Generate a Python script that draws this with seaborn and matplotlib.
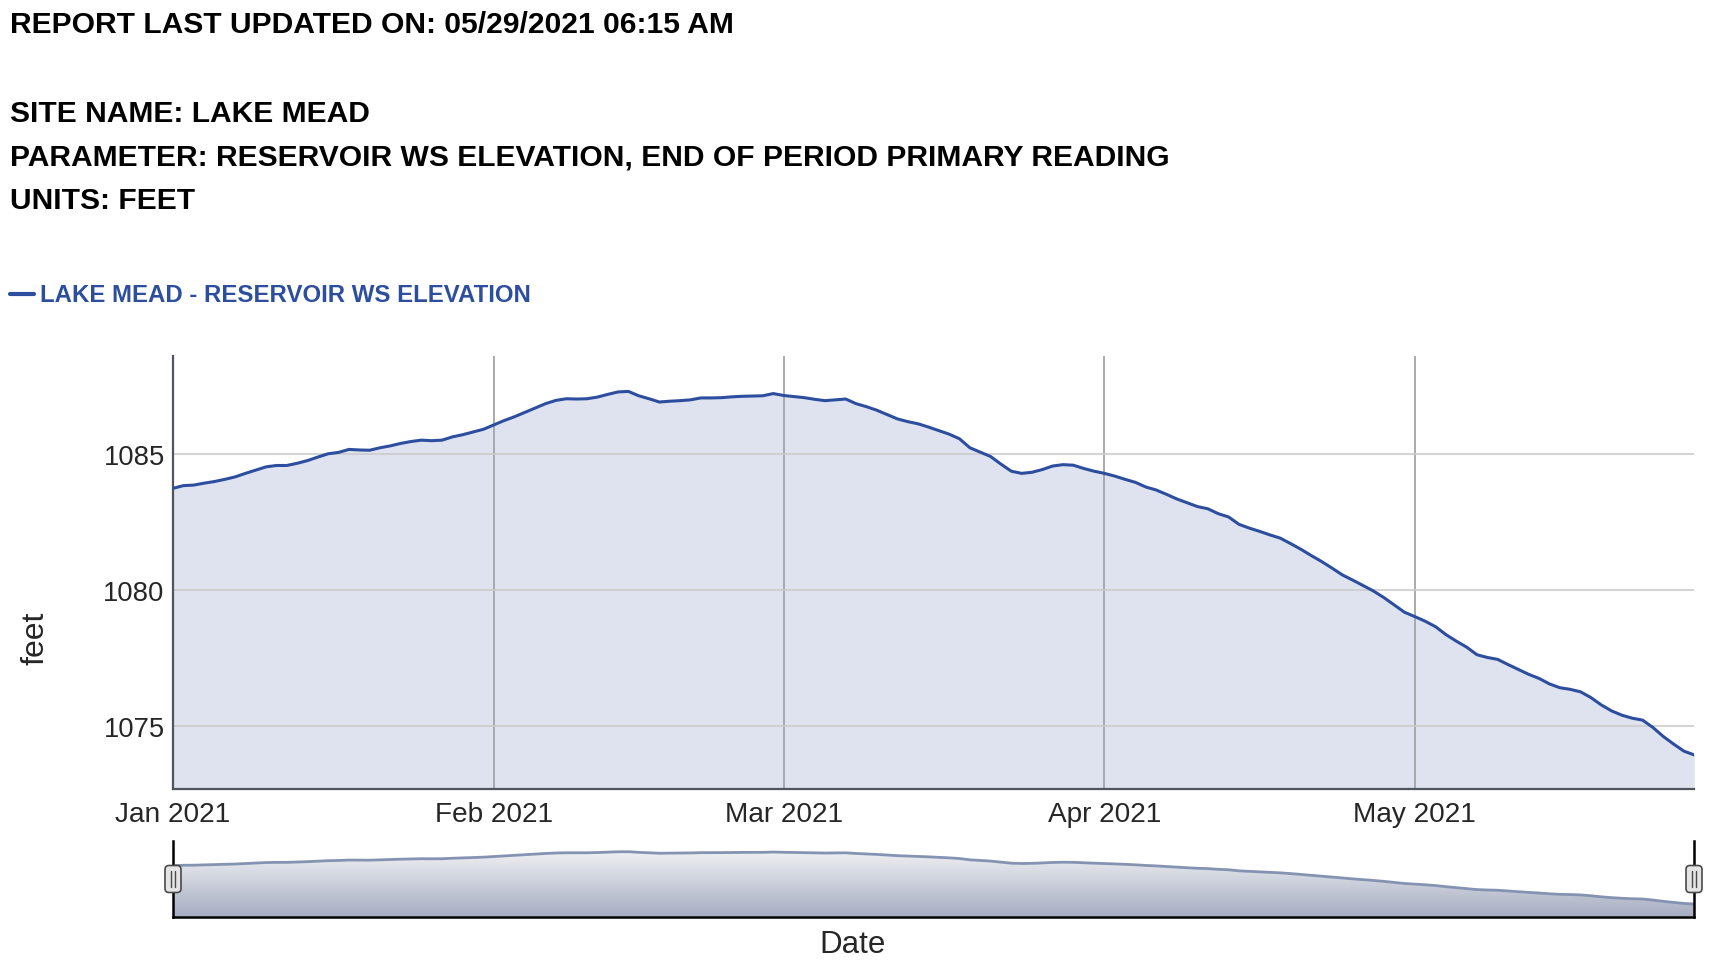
import numpy as np
import pandas as pd
import matplotlib
matplotlib.use('Agg')
import matplotlib.pyplot as plt
import matplotlib.dates as mdates
from matplotlib.colors import LinearSegmentedColormap
from matplotlib.patches import FancyBboxPatch
from matplotlib.lines import Line2D
from matplotlib.transforms import IdentityTransform
import seaborn as sns

# Lake Mead daily elevation (feet)
jan_ft = [1083.73, 1083.83, 1083.85, 1083.92, 1083.98, 1084.06, 1084.15, 1084.28, 1084.40, 1084.52,
          1084.57, 1084.57, 1084.65, 1084.75, 1084.88, 1085.00, 1085.05, 1085.16, 1085.14, 1085.13,
          1085.22, 1085.29, 1085.38, 1085.45, 1085.50, 1085.48, 1085.50, 1085.62, 1085.70, 1085.80,
          1085.90]
feb_ft = [1086.06, 1086.22, 1086.36, 1086.52, 1086.68, 1086.84, 1086.96, 1087.02, 1087.01, 1087.02,
          1087.08, 1087.18, 1087.27, 1087.29, 1087.13, 1087.02, 1086.90, 1086.93, 1086.95, 1086.98,
          1087.05, 1087.05, 1087.06, 1087.09, 1087.11, 1087.12, 1087.13, 1087.21]
mar_ft = [1087.14, 1087.10, 1087.06, 1087.00, 1086.95, 1086.98, 1087.01, 1086.84, 1086.73, 1086.60,
          1086.44, 1086.28, 1086.18, 1086.10, 1085.98, 1085.85, 1085.72, 1085.55, 1085.22, 1085.06,
          1084.90, 1084.62, 1084.36, 1084.28, 1084.32, 1084.42, 1084.55, 1084.60, 1084.58, 1084.46,
          1084.36]
apr_ft = [1084.28, 1084.18, 1084.06, 1083.95, 1083.78, 1083.67, 1083.51, 1083.34, 1083.20, 1083.06,
          1082.98, 1082.80, 1082.68, 1082.41, 1082.27, 1082.15, 1082.02, 1081.90, 1081.70, 1081.49,
          1081.26, 1081.04, 1080.80, 1080.55, 1080.36, 1080.16, 1079.96, 1079.72, 1079.45, 1079.18]
may_ft = [1079.02, 1078.85, 1078.65, 1078.36, 1078.12, 1077.90, 1077.62, 1077.52, 1077.45, 1077.26,
          1077.08, 1076.90, 1076.75, 1076.55, 1076.41, 1076.35, 1076.26, 1076.05, 1075.78, 1075.56,
          1075.40, 1075.29, 1075.22, 1074.95, 1074.62, 1074.34, 1074.08, 1073.94]

elevation = jan_ft + feb_ft + mar_ft + apr_ft + may_ft
dates = pd.date_range('2021-01-01', periods=len(elevation), freq='D')
df = pd.DataFrame({'date': dates, 'elevation': elevation})

y_ticks = [1075, 1080, 1085]

header_lines = ["REPORT LAST UPDATED ON: 05/29/2021 06:15 AM",
                "SITE NAME: LAKE MEAD",
                "PARAMETER: RESERVOIR WS ELEVATION, END OF PERIOD PRIMARY READING",
                "UNITS: FEET"]
series_name = "LAKE MEAD - RESERVOIR WS ELEVATION"

sns.set_style('white')
plt.rcParams['font.family'] = ['Liberation Sans', 'DejaVu Sans']

W, H = 1722, 970
blue = '#2d4e9f'

fig = plt.figure(figsize=(W / 100, H / 100), dpi=100)

# header text (baselines in pixels from top)
for txt, base in zip(header_lines, [33.3, 121.7, 165.7, 209.3]):
    fig.text(10 / W, 1 - base / H, txt, fontsize=21.6, fontweight='bold', va='baseline', color='black')

# legend
fig.add_artist(Line2D([10 / W, 33.5 / W], [1 - 294.7 / H] * 2, color=blue, lw=3, transform=fig.transFigure))
fig.text(40 / W, 1 - 301.7 / H, series_name, fontsize=17.3, fontweight='bold', va='baseline', color=blue)

# main chart
ax = fig.add_axes([173 / W, 1 - 790 / H, (1694.3 - 173) / W, (790 - 357) / H])
ymin, ymax = 1072.69, 1088.59
ax.fill_between(df['date'], df['elevation'], ymin, color='#dfe3f0', lw=0, zorder=1)
sns.lineplot(data=df, x='date', y='elevation', ax=ax, color=blue, linewidth=2.2, zorder=3)
ax.set_xlim(dates[0], dates[-1])
ax.set_ylim(ymin, ymax)
ax.set_yticks(y_ticks)
ax.xaxis.set_major_locator(mdates.MonthLocator())
ax.xaxis.set_major_formatter(mdates.DateFormatter('%b %Y'))
ax.tick_params(axis='x', length=0, pad=9, labelsize=20.2)
ax.tick_params(axis='y', length=0, pad=6, labelsize=19.7)
ax.set_axisbelow('line')
ax.grid(axis='y', color='#cccccc', lw=1.2)
ax.grid(axis='x', color='#a4a4a8', lw=1.3)
ax.set_xlabel('')
ax.set_ylabel('')
for s in ['top', 'right']:
    ax.spines[s].set_visible(False)
for s in ['left', 'bottom']:
    ax.spines[s].set_color('#50545f')
    ax.spines[s].set_linewidth(1.6)

fig.text(35 / W, 1 - 638 / H, 'feet', rotation=90, ha='center', va='center', fontsize=23)

# navigator / overview strip
nav = fig.add_axes([173 / W, 1 - 917.7 / H, (1694.3 - 173) / W, (917.7 - 841.7) / H])
nmin, nmax = 1070.7, 1090.1
poly = nav.fill_between(df['date'], df['elevation'], nmin, facecolor='none', lw=0)
grad_cmap = LinearSegmentedColormap.from_list('nav', ['#f0f1f4', '#a6adc1'])
x0, x1 = mdates.date2num(dates[0]), mdates.date2num(dates[-1])
img = nav.imshow(np.linspace(0, 1, 256).reshape(-1, 1), cmap=grad_cmap, aspect='auto',
                 extent=[x0, x1, nmin, 1087.6], origin='upper', zorder=1)
img.set_clip_path(poly.get_paths()[0], transform=nav.transData)
sns.lineplot(data=df, x='date', y='elevation', ax=nav, color='#8593b3', linewidth=2, zorder=2)
nav.set_xlim(dates[0], dates[-1])
nav.set_ylim(nmin, nmax)
nav.set_xticks([])
nav.set_yticks([])
nav.set_xlabel('')
nav.set_ylabel('')
nav.spines['top'].set_visible(False)
for s in ['left', 'right', 'bottom']:
    nav.spines[s].set_color('black')
    nav.spines[s].set_linewidth(1.8)

# handles at both ends of the navigator (pixel coordinates)
for cx in [173, 1694]:
    fig.add_artist(FancyBboxPatch((cx - 6.5, 78), 13, 24, boxstyle='round,pad=1.5,rounding_size=4',
                                  facecolor='#e4e4e4', edgecolor='#4a4a4a', lw=1.2,
                                  transform=IdentityTransform(), zorder=10))
    for dx in [-2, 2]:
        fig.add_artist(Line2D([cx + dx, cx + dx], [82, 98], color='#4a4a4a', lw=1,
                              transform=IdentityTransform(), zorder=11))

fig.text(853 / W, 1 - 953 / H, 'Date', ha='center', va='baseline', fontsize=22.5)

fig.savefig('out.png', dpi=100)
